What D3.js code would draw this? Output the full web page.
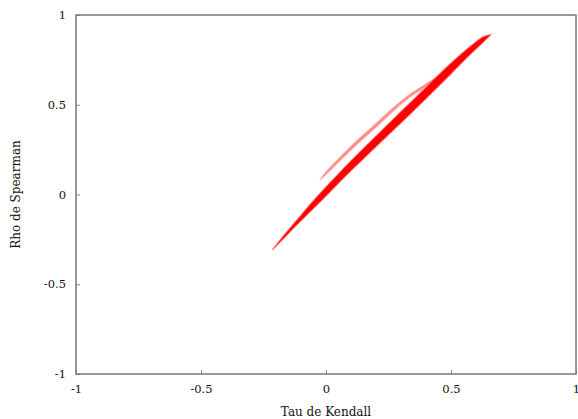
<!DOCTYPE html>
<html>
<head>
<meta charset="utf-8">
<script src="https://cdn.jsdelivr.net/npm/d3@7"></script>
<style>
  body { margin: 0; background: #fff; }
  text { font-family: "DejaVu Serif", "Liberation Serif", serif; font-size: 12px; fill: #111; }
</style>
</head>
<body>
<div class="chart"></div>
<script>
// main band (lower, dense): tau with lower / upper rho
const mainTau  = [-0.215, -0.18, -0.12, -0.05, 0.02, 0.1, 0.2, 0.3, 0.4, 0.5, 0.58, 0.63, 0.66];
const mainLow  = [-0.310, -0.261, -0.174, -0.078, 0.020, 0.132, 0.266, 0.398, 0.534, 0.672, 0.784, 0.850, 0.892];
const mainHigh = [-0.310, -0.247, -0.148, -0.034, 0.072, 0.188, 0.326, 0.462, 0.598, 0.732, 0.828, 0.880, 0.892];

// upper thin band
const upTau  = [-0.025, 0.0, 0.05, 0.12, 0.2, 0.27, 0.33, 0.39, 0.44];
const upLow  = [0.080, 0.111, 0.181, 0.275, 0.375, 0.466, 0.537, 0.593, 0.639];
const upHigh = [0.080, 0.125, 0.199, 0.295, 0.395, 0.484, 0.553, 0.607, 0.651];

const ticks = [-1, -0.5, 0, 0.5, 1];

const W = 578, H = 419;
const margin = {top: 15, right: 2, bottom: 45, left: 76};

const svg = d3.select('.chart').append('svg')
    .attr('width', W)
    .attr('height', H);

const x = d3.scaleLinear().domain([-1, 1]).range([margin.left, W - margin.right]);
const y = d3.scaleLinear().domain([-1, 1]).range([H - margin.bottom, margin.top]);

const area = d3.area()
    .x(d => x(d.t))
    .y0(d => y(d.lo))
    .y1(d => y(d.hi))
    .curve(d3.curveCatmullRom);

const mainData = mainTau.map((t, i) => ({t: t, lo: mainLow[i], hi: mainHigh[i]}));
const upData = upTau.map((t, i) => ({t: t, lo: upLow[i], hi: upHigh[i]}));

svg.append('path')
    .datum(upData)
    .attr('d', area)
    .attr('fill', '#f22')
    .attr('fill-opacity', 0.5)
    .attr('stroke', '#f77')
    .attr('stroke-opacity', 0.35)
    .attr('stroke-width', 1.5);

svg.append('path')
    .datum(mainData)
    .attr('d', area)
    .attr('fill', '#f00')
    .attr('stroke', '#f55')
    .attr('stroke-opacity', 0.45)
    .attr('stroke-width', 1.5);

// axes
const fmt = d => String(d);
const xAxis = d3.axisBottom(x).tickValues(ticks).tickSize(-4).tickPadding(11).tickFormat(fmt);
const yAxis = d3.axisLeft(y).tickValues(ticks).tickSize(-4).tickPadding(10).tickFormat(fmt);

const gx = svg.append('g')
    .attr('transform', `translate(0,${H - margin.bottom})`)
    .call(xAxis);
const gy = svg.append('g')
    .attr('transform', `translate(${margin.left},0)`)
    .call(yAxis);

[gx, gy].forEach(g => {
    g.select('.domain').remove();
    g.selectAll('.tick line').attr('stroke', '#888');
    g.selectAll('.tick text').style('font-family', '"DejaVu Serif", serif').style('font-size', '11.5px');
});

// frame
svg.append('rect')
    .attr('x', x(-1))
    .attr('y', y(1))
    .attr('width', x(1) - x(-1))
    .attr('height', y(-1) - y(1))
    .attr('fill', 'none')
    .attr('stroke', '#777')
    .attr('stroke-width', 1.5);

svg.append('text')
    .attr('x', x(0))
    .attr('y', 416)
    .attr('text-anchor', 'middle')
    .text('Tau de Kendall');

svg.append('text')
    .attr('transform', `translate(20,${y(0)}) rotate(-90)`)
    .attr('text-anchor', 'middle')
    .text('Rho de Spearman');
</script>
</body>
</html>
